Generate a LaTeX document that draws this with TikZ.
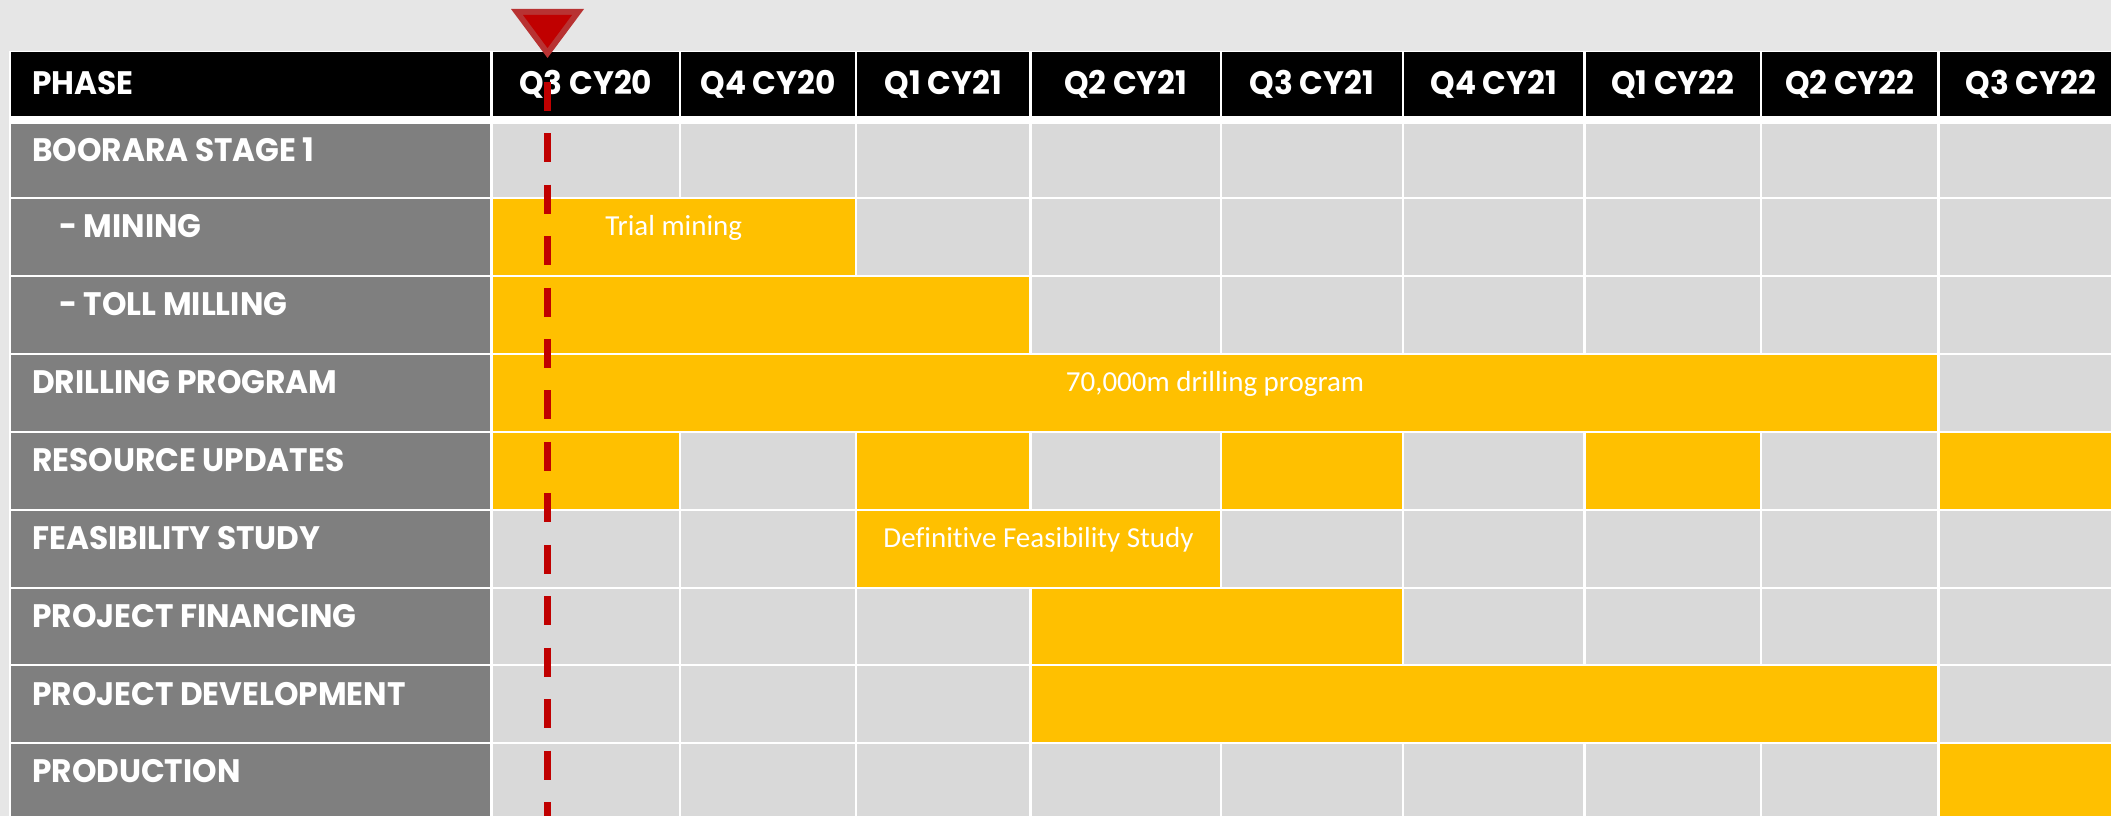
\documentclass[tikz,border=0pt]{standalone}
\usepackage{fontspec}
\setmainfont{Carlito}[Ligatures=NoCommon]
\newfontfamily\hdfont[FakeStretch=0.96]{Poppins}
\usetikzlibrary{calc}
\definecolor{bgc}{HTML}{E6E6E6}
\definecolor{cellgray}{HTML}{D9D9D9}
\definecolor{labgray}{HTML}{7F7F7F}
\definecolor{baryel}{HTML}{FFC000}
\definecolor{mkred}{HTML}{C00000}
\definecolor{mkedge}{HTML}{B83232}
\newcommand\cellfill[5]{\fill[#1] ($(X#2|-Y#4)+(1.4,1.4)$) rectangle ($(X#3|-Y#5)+(-1.4,-1.4)$);}
\begin{document}
\begin{tikzpicture}[x=1pt,y=-1pt,
  hd/.style={text=white,font=\hdfont\bfseries\fontsize{32.5}{38}\selectfont,inner sep=0pt,anchor=base},
  hdw/.style={hd,anchor=base west},
  lab/.style={text=white,font=\hdfont\bfseries\fontsize{32.5}{38}\selectfont,inner sep=0pt,anchor=base west},
  bartxt/.style={text=white,font=\fontsize{29}{34}\selectfont,inner sep=0pt,anchor=base},
  marker/.style={mkred,line width=7,dash pattern=on 29 off 22.45}
]
\useasboundingbox (0,0) rectangle (2111,816);
\fill[bgc] (0,0) rectangle (2111,816);
\begin{scope}
\clip (0,0) rectangle (2111,816);
\fill[white] (9,51) rectangle (2200,830);
% grid coordinates
\foreach \n/\v in {0/10,1/491.5,2/680,3/856,4/1030.5,5/1221,6/1403,7/1584.5,8/1761,9/1938.5,10/2124}
  {\coordinate (X\n) at (\v,0);}
\foreach \n/\v in {0/122.6,1/198,2/276,3/354,4/432,5/510,6/588,7/665,8/743,9/821}
  {\coordinate (Y\n) at (0,\v);}
\coordinate (H0) at (0,51.1);
\coordinate (H1) at (0,117.4);
% header cells
\foreach \a [evaluate=\a as \b using int(\a+1)] in {0,...,9}
  {\fill[black] ($(X\a|-H0)+(1.4,1.4)$) rectangle ($(X\b|-H1)+(-1.4,-1.4)$);}
% body cells
\foreach \r [evaluate=\r as \s using int(\r+1)] in {0,...,8}{
  \cellfill{labgray}{0}{1}{\r}{\s}
  \foreach \a [evaluate=\a as \b using int(\a+1)] in {1,...,9}
    {\cellfill{cellgray}{\a}{\b}{\r}{\s}}
}
% bars
\cellfill{baryel}{1}{3}{1}{2}
\cellfill{baryel}{1}{4}{2}{3}
\cellfill{baryel}{1}{9}{3}{4}
\cellfill{baryel}{1}{2}{4}{5}
\cellfill{baryel}{3}{4}{4}{5}
\cellfill{baryel}{5}{6}{4}{5}
\cellfill{baryel}{7}{8}{4}{5}
\cellfill{baryel}{9}{10}{4}{5}
\cellfill{baryel}{3}{5}{5}{6}
\cellfill{baryel}{4}{6}{6}{7}
\cellfill{baryel}{4}{9}{7}{8}
\cellfill{baryel}{9}{10}{8}{9}
% header texts
\node[hdw] (hphase) at (32,94) {PHASE};
\node[hd] (h1) at (585.75,94) {Q3 CY20};
\node[hd] (h2) at (768,94) {Q4 CY20};
\node[hd] (h3) at (943.25,94) {Q1 CY21};
\node[hd] (h4) at (1125.75,94) {Q2 CY21};
\node[hd] (h5) at (1312,94) {Q3 CY21};
\node[hd] (h6) at (1493.75,94) {Q4 CY21};
\node[hd] (h7) at (1672.75,94) {Q1 CY22};
\node[hd] (h8) at (1849.75,94) {Q2 CY22};
\node[hd] (h9) at (2031,94) {Q3 CY22};
% row labels
\node[lab] (l1) at (32,161) {BOORARA STAGE 1};
\node[lab] (l2) at (59,237) {- MINING};
\node[lab] (l3) at (59,315) {- TOLL MILLING};
\node[lab] (l4) at (32,393) {DRILLING PROGRAM};
\node[lab] (l5) at (32,471) {RESOURCE UPDATES};
\node[lab] (l6) at (32,549) {FEASIBILITY STUDY};
\node[lab] (l7) at (32,627) {PROJECT FINANCING};
\node[lab] (l8) at (32,705) {PROJECT DEVELOPMENT};
\node[lab] (l9) at (32,782) {PRODUCTION};
% bar texts
\node[bartxt] (t1) at (673.75,235) {Trial mining};
\node[bartxt] (t2) at (1215,391) {70,000m drilling program};
\node[bartxt] (t3) at (1038.5,547) {Definitive Feasibility Study};
% marker
\coordinate (mktop) at (547.5,81.7);
\coordinate (mkbot) at (547.5,830);
\draw[marker] (mktop) -- (mkbot);
\end{scope}
\fill[mkedge] (511,9) -- (584,9) -- (547.5,58) -- cycle;
\fill[mkred] (523,15) -- (572,15) -- (547.5,48) -- cycle;
\end{tikzpicture}
\end{document}
